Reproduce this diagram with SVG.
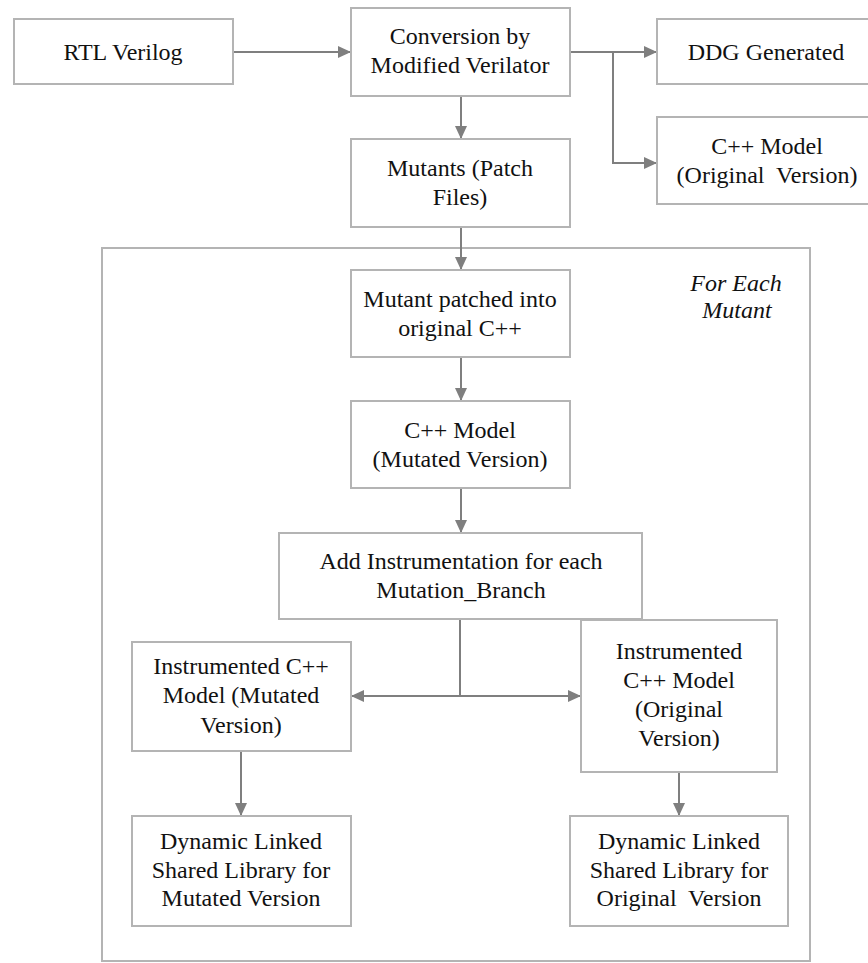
<svg xmlns="http://www.w3.org/2000/svg" width="868" height="963" viewBox="0 0 868 963">
  <style>
    .box { fill: #ffffff; stroke: #b4b4b4; stroke-width: 2; }
    .frame { fill: none; stroke: #b4b4b4; stroke-width: 2; }
    .wire { fill: none; stroke: #7f7f7f; stroke-width: 2; }
    .arrow { fill: none; stroke: #7f7f7f; stroke-width: 2; marker-end: url(#head); }
    text { font-size: 24px; fill: #111111; text-anchor: middle; white-space: pre; }
    .note { font-style: italic; }
  </style>
  <defs>
    <marker id="head" markerUnits="userSpaceOnUse" markerWidth="14" markerHeight="12" refX="13" refY="6" orient="auto">
      <path d="M0,0 L13,6 L0,12 Z" fill="#7f7f7f"/>
    </marker>
  </defs>

  <g font-family="'Liberation Serif', Tinos, 'Times New Roman', 'DejaVu Serif', serif">
  <!-- outer loop container -->
  <g id="loop">
    <rect class="frame" x="102" y="248" width="708" height="713"/>
    <text class="note" x="736" y="291">For Each</text>
    <text class="note" x="737" y="318">Mutant</text>
  </g>

  <g id="connectors">
    <line class="arrow" x1="233" y1="52" x2="351" y2="52"/>
    <line class="arrow" x1="570" y1="52" x2="657" y2="52"/>
    <polyline class="arrow" points="613,52 613,163 657,163"/>
    <line class="arrow" x1="461" y1="96" x2="461" y2="139"/>
    <line class="arrow" x1="461" y1="227" x2="461" y2="270"/>
    <line class="arrow" x1="461" y1="357" x2="461" y2="401"/>
    <line class="arrow" x1="461" y1="488" x2="461" y2="533"/>
    <line class="wire" x1="460" y1="619" x2="460" y2="696"/>
    <line class="arrow" x1="460" y1="696" x2="351" y2="696"/>
    <line class="arrow" x1="460" y1="696" x2="581" y2="696"/>
    <line class="arrow" x1="241" y1="751" x2="241" y2="816"/>
    <line class="arrow" x1="679" y1="772" x2="679" y2="816"/>
  </g>

  <g id="rtl">
    <rect class="box" x="14" y="19" width="219" height="65"/>
    <text x="123" y="60">RTL Verilog</text>
  </g>

  <g id="conversion">
    <rect class="box" x="351" y="8" width="219" height="88"/>
    <text x="460" y="44">Conversion by</text>
    <text x="460" y="73">Modified Verilator</text>
  </g>

  <g id="ddg">
    <rect class="box" x="657" y="19" width="220" height="65"/>
    <text x="766" y="60">DDG Generated</text>
  </g>

  <g id="cpp-original">
    <rect class="box" x="657" y="117" width="220" height="87"/>
    <text x="767" y="154">C++ Model</text>
    <text x="767" y="183">(Original  Version)</text>
  </g>

  <g id="mutants">
    <rect class="box" x="351" y="139" width="219" height="88"/>
    <text x="460" y="176">Mutants (Patch</text>
    <text x="460" y="205">Files)</text>
  </g>

  <g id="patched">
    <rect class="box" x="351" y="270" width="219" height="87"/>
    <text x="460" y="307">Mutant patched into</text>
    <text x="460" y="336">original C++</text>
  </g>

  <g id="cpp-mutated">
    <rect class="box" x="351" y="401" width="219" height="87"/>
    <text x="460" y="438">C++ Model</text>
    <text x="460" y="467">(Mutated Version)</text>
  </g>

  <g id="instrumentation">
    <rect class="box" x="279" y="533" width="363" height="86"/>
    <text x="461" y="569">Add Instrumentation for each</text>
    <text x="461" y="598">Mutation_Branch</text>
  </g>

  <g id="instr-mutated">
    <rect class="box" x="132" y="642" width="219" height="109"/>
    <text x="241" y="674">Instrumented C++</text>
    <text x="241" y="703">Model (Mutated</text>
    <text x="241" y="733">Version)</text>
  </g>

  <g id="instr-original">
    <rect class="box" x="581" y="620" width="196" height="152"/>
    <text x="679" y="659">Instrumented</text>
    <text x="679" y="688">C++ Model</text>
    <text x="679" y="717">(Original</text>
    <text x="679" y="746">Version)</text>
  </g>

  <g id="lib-mutated">
    <rect class="box" x="132" y="816" width="219" height="110"/>
    <text x="241" y="849">Dynamic Linked</text>
    <text x="241" y="878">Shared Library for</text>
    <text x="241" y="906">Mutated Version</text>
  </g>

  <g id="lib-original">
    <rect class="box" x="570" y="816" width="218" height="110"/>
    <text x="679" y="849">Dynamic Linked</text>
    <text x="679" y="878">Shared Library for</text>
    <text x="679" y="906">Original  Version</text>
  </g>
  </g>
</svg>
